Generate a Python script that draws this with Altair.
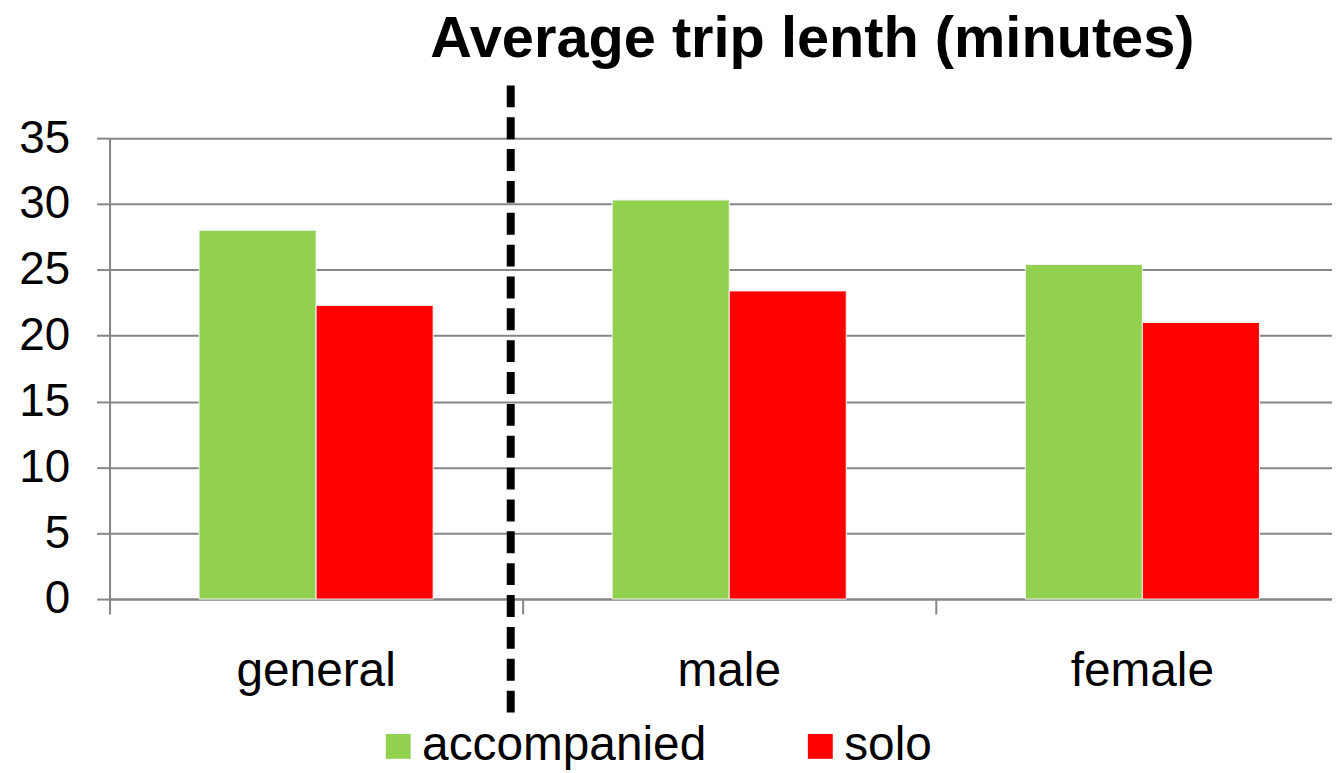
import altair as alt
import pandas as pd

categories = ["general", "male", "female"]
series = ["accompanied", "solo"]
accompanied = [28.0, 30.3, 25.4]
solo = [22.3, 23.4, 21.0]
y_ticks = [0, 5, 10, 15, 20, 25, 30, 35]
divider_before = ["male"]
title_text = "Average trip lenth (minutes)"

rows = []
for i, c in enumerate(categories):
    rows.append({"category": c, "series": "accompanied", "value": accompanied[i]})
    rows.append({"category": c, "series": "solo", "value": solo[i]})
df = pd.DataFrame(rows)
df_rule = pd.DataFrame({"category": divider_before})

FONT = "Liberation Sans"
GRAY = "#868686"
W = 1228
H = 463

x_scale = alt.Scale(domain=categories, range=[0, 1245], paddingInner=0, paddingOuter=0)

x_axis = alt.Axis(
    title=None,
    bandPosition=0,
    labelAngle=0,
    labelFont=FONT,
    labelFontSize=48,
    labelColor="black",
    labelBaseline="alphabetic",
    labelPadding=72,
    labelLimit=0,
    labelOverlap=False,
    labelFlush=False,
    tickSize=15,
    tickColor=GRAY,
    tickWidth=2,
    domainColor=GRAY,
    domainWidth=2,
    grid=False,
)

bars = alt.Chart(df).mark_bar(stroke="#F4F4F4", strokeWidth=1).encode(
    x=alt.X("category:N", sort=categories, scale=x_scale, axis=x_axis),
    xOffset=alt.XOffset(
        "series:N", sort=series, scale=alt.Scale(paddingInner=0, paddingOuter=0.765)
    ),
    y=alt.Y(
        "value:Q",
        scale=alt.Scale(domain=[0, 35], nice=False),
        axis=alt.Axis(
            title=None,
            values=y_ticks,
            labelFont=FONT,
            labelFontSize=46,
            labelColor="black",
            labelPadding=27,
            tickSize=13,
            tickColor=GRAY,
            tickWidth=2,
            domainColor=GRAY,
            domainWidth=2,
            grid=True,
            gridColor=GRAY,
            gridWidth=2,
        ),
    ),
    color=alt.Color(
        "series:N",
        sort=series,
        scale=alt.Scale(domain=series, range=["#92D050", "#FF0000"]),
        legend=alt.Legend(
            title=None,
            orient="none",
            legendX=266,
            legendY=587,
            direction="horizontal",
            symbolType="square",
            symbolSize=625,
            symbolStrokeWidth=0,
            labelFont=FONT,
            labelFontSize=48,
            labelColor="black",
            labelOffset=0,
            labelLimit=0,
            columnPadding=90,
            padding=0,
        ),
    ),
)

divider = alt.Chart(df_rule).mark_rule(
    color="black", strokeWidth=8, strokeDash=[22, 10], xOffset=-12
).encode(
    x=alt.X("category:N", sort=categories, scale=x_scale, bandPosition=0, axis=x_axis),
    y=alt.value(-53),
    y2=alt.value(581),
)

chart = (
    alt.layer(bars, divider)
    .properties(
        width=W,
        height=H,
        padding={"left": 102, "top": 129, "right": 0, "bottom": 170},
        autosize=alt.AutoSizeParams(type="none"),
        title=alt.TitleParams(
            text=title_text,
            font=FONT,
            fontSize=58,
            fontWeight="bold",
            color="black",
            anchor="middle",
            baseline="alphabetic",
            offset=-33,
            dx=92,
        ),
        background="white",
    )
    .configure_view(stroke=None)
)

chart.save("out.html", embed_options={"renderer": "svg", "actions": False})
